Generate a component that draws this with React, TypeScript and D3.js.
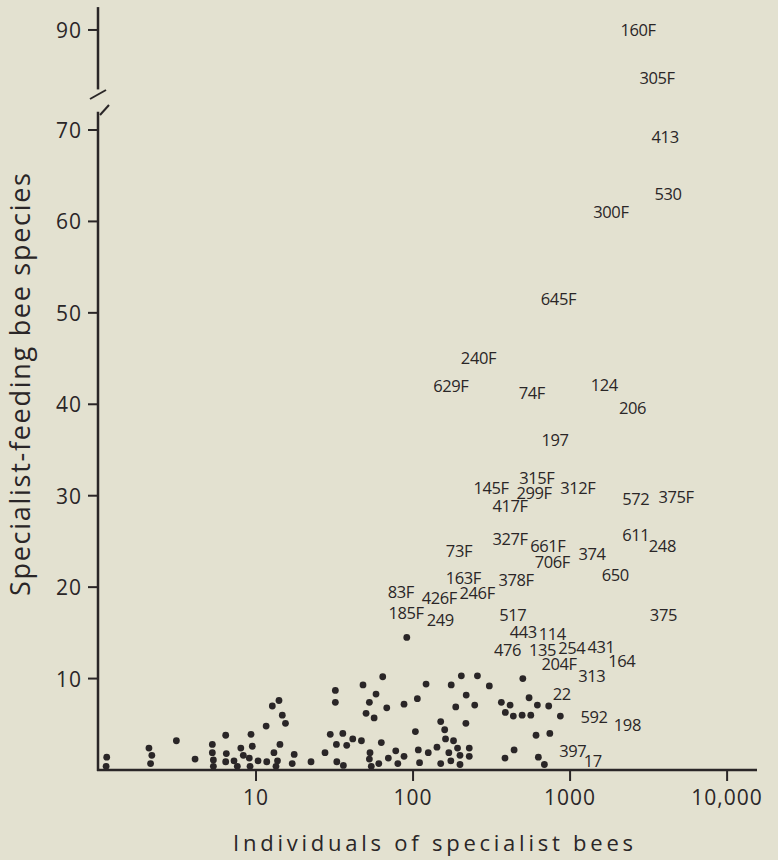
import React, { useEffect, useRef } from "react";
import * as d3 from "d3";

// unlabelled points: individuals of specialist bees vs. specialist-feeding bee species
const dotIndividuals = [
  1.12, 1.11, 2.08, 2.17, 2.13, 3.11, 4.09, 5.27, 5.27, 5.35,
  5.35, 6.41, 6.47, 6.41, 7.24, 7.6, 8.0, 8.3, 9.06, 9.29,
  9.47, 9.16, 10.3, 11.6, 11.7, 12.7, 14.0, 14.7, 15.4, 14.2,
  13.0, 13.7, 13.4, 17.5, 17.0, 22.4, 27.5, 29.7, 32.0, 32.0,
  32.5, 32.7, 36.0, 35.7, 37.8, 41.3, 46.9, 48.0, 58.1, 64.1,
  52.7, 50.2, 56.5, 68.0, 87.6, 91.2, 53.2, 52.7, 54.2, 60.5,
  62.8, 69.6, 77.6, 80.0, 87.6, 103.5, 106.5, 121, 108, 110,
  125, 142, 150, 150, 159, 161, 169, 174, 181, 192,
  199, 199, 228, 228, 175, 203, 257, 218, 187, 247,
  217, 306, 365, 415, 387, 435, 495, 562, 500, 548,
  619, 607, 385, 440, 628, 731, 867, 743, 686,
];
const dotSpecies = [
  1.4, 0.4, 2.4, 1.6, 0.7, 3.2, 1.2, 2.8, 1.9, 1.1,
  0.4, 3.8, 1.8, 0.9, 1.0, 0.4, 2.4, 1.6, 1.3, 3.9,
  2.6, 0.4, 1.0, 4.8, 0.9, 7.0, 7.6, 6.0, 5.1, 2.8,
  1.9, 1.0, 0.4, 1.7, 0.7, 0.9, 1.9, 3.9, 8.7, 7.4,
  2.8, 0.9, 0.5, 4.0, 2.7, 3.4, 3.2, 9.3, 8.3, 10.2,
  7.4, 6.2, 5.7, 6.8, 7.2, 14.5, 1.9, 1.2, 0.4, 0.7,
  3.0, 1.3, 2.1, 0.7, 1.5, 4.2, 7.8, 9.4, 2.2, 0.8,
  1.9, 2.5, 0.7, 5.3, 4.4, 3.4, 1.9, 1.0, 3.2, 2.4,
  1.6, 0.6, 2.4, 1.5, 9.3, 10.3, 10.3, 8.2, 6.9, 7.1,
  5.1, 9.2, 7.4, 7.1, 6.3, 5.9, 6.0, 6.0, 10.0, 7.9,
  7.1, 3.8, 1.3, 2.2, 1.4, 7.0, 5.9, 4.0, 0.6,
];

// labelled points (the label is the mark)
const labelNames = [
  "160F", "305F", "413", "530", "300F", "645F", "240F", "629F", "74F", "124",
  "206", "197", "315F", "145F", "299F", "312F", "417F", "572", "375F", "327F",
  "73F", "661F", "706F", "374", "611", "248", "650", "163F", "378F", "83F",
  "426F", "246F", "185F", "249", "517", "375", "443", "114", "476", "135",
  "254", "431", "164", "204F", "313", "22", "592", "198", "397", "17",
];
const labelIndividuals = [
  2710, 3580, 4030, 4210, 1820, 843, 261, 174, 570, 1650,
  2500, 802, 614, 314, 590, 1120, 415, 2620, 4730, 415,
  196, 721, 771, 1380, 2620, 3870, 1940, 209, 453, 83.5,
  147, 256, 90.2, 149, 432, 3930, 504, 771, 400, 668,
  1025, 1575, 2135, 851, 1374, 885, 1422, 2317, 1040, 1396,
];
const labelSpecies = [
  90, 84.8, 69.3, 63.1, 61.1, 51.6, 45.1, 42.0, 41.3, 42.2,
  39.7, 36.1, 32.0, 30.9, 30.4, 30.9, 28.9, 29.7, 29.9, 25.3,
  24.0, 24.5, 22.8, 23.7, 25.8, 24.5, 21.4, 21.0, 20.8, 19.5,
  18.9, 19.4, 17.2, 16.5, 17.0, 17.0, 15.2, 14.9, 13.2, 13.2,
  13.4, 13.5, 12.0, 11.7, 10.3, 8.4, 5.8, 5.0, 2.1, 1.0,
];

const xTickValues = [10, 100, 1000, 10000];
const xTickLabels = ["10", "100", "1000", "10,000"];
const yTickValues = [10, 20, 30, 40, 50, 60, 70];
const yUpperTicks = [90];

const ink = "#2a2627";
const font = "'Open Sans', 'DejaVu Sans', sans-serif";

export default function App() {
  const ref = useRef<SVGSVGElement>(null);

  useEffect(() => {
    const svg = d3.select(ref.current);
    svg.selectAll("*").remove();

    const x = d3.scaleLog().domain([1, 15500]).range([99, 757]);
    const yLow = d3.scaleLinear().domain([0, 72]).range([770, 111.7]);
    const yHigh = d3.scaleLinear().domain([83, 92.5]).range([94, 7.1]);
    const yOf = (v: number) => (v > 80 ? yHigh(v) : yLow(v));
    const x0 = 98;

    // axes lines
    svg.append("line")
      .attr("x1", x0).attr("x2", x0)
      .attr("y1", yHigh(92.5)).attr("y2", yHigh(83.5))
      .attr("stroke", ink).attr("stroke-width", 2.5);
    svg.append("line")
      .attr("x1", x0).attr("x2", x0)
      .attr("y1", yLow(72)).attr("y2", yLow(0) + 1)
      .attr("stroke", ink).attr("stroke-width", 2.5);
    svg.append("line")
      .attr("x1", x0 - 1).attr("x2", x(15500))
      .attr("y1", yLow(0)).attr("y2", yLow(0))
      .attr("stroke", ink).attr("stroke-width", 2.5);

    // break marks
    const breaks = [
      [x0 - 8, 99, x0 + 8, 90],
      [x0 + 2, 115, x0 + 11, 105],
    ];
    svg.selectAll(".brk").data(breaks).enter().append("line")
      .attr("x1", d => d[0]).attr("y1", d => d[1])
      .attr("x2", d => d[2]).attr("y2", d => d[3])
      .attr("stroke", ink).attr("stroke-width", 2);

    // y ticks
    const yTicks = [
      ...yTickValues.map(v => ({ v, y: yLow(v) })),
      ...yUpperTicks.map(v => ({ v, y: yHigh(v) })),
    ];
    const yt = svg.selectAll(".yt").data(yTicks).enter().append("g");
    yt.append("line")
      .attr("x1", x0 - 10).attr("x2", x0)
      .attr("y1", d => d.y).attr("y2", d => d.y)
      .attr("stroke", ink).attr("stroke-width", 2);
    yt.append("text")
      .attr("x", 82).attr("y", d => d.y)
      .attr("text-anchor", "end").attr("dominant-baseline", "central")
      .attr("font-family", font).attr("font-size", 21)
      .attr("letter-spacing", 1).attr("fill", ink)
      .text(d => String(d.v));

    // x ticks
    const xt = svg.selectAll(".xt").data(xTickValues).enter().append("g");
    xt.append("line")
      .attr("x1", d => x(d)).attr("x2", d => x(d))
      .attr("y1", yLow(0)).attr("y2", yLow(0) + 11)
      .attr("stroke", ink).attr("stroke-width", 2);
    xt.append("text")
      .attr("x", d => x(d)).attr("y", 797)
      .attr("text-anchor", "middle").attr("dominant-baseline", "central")
      .attr("font-family", font).attr("font-size", 21)
      .attr("letter-spacing", 1).attr("fill", ink)
      .text((d, i) => xTickLabels[i]);

    // dots
    svg.selectAll(".dot").data(dotIndividuals).enter().append("circle")
      .attr("cx", d => x(d))
      .attr("cy", (d, i) => yLow(dotSpecies[i]))
      .attr("r", 3.4)
      .attr("fill", ink);

    // labelled points
    svg.selectAll(".lbl").data(labelNames).enter().append("text")
      .attr("x", (d, i) => x(labelIndividuals[i]))
      .attr("y", (d, i) => yOf(labelSpecies[i]))
      .attr("text-anchor", "middle").attr("dominant-baseline", "central")
      .attr("font-family", font).attr("font-size", 16.5)
      .attr("letter-spacing", -0.4)
      .attr("fill", ink)
      .text(d => d);

    // titles
    svg.append("text")
      .attr("x", 233).attr("y", 851)
      .attr("textLength", 400).attr("lengthAdjust", "spacing")
      .attr("font-family", font).attr("font-size", 22)
      .attr("fill", ink)
      .text("Individuals of specialist bees");
    svg.append("text")
      .attr("transform", "translate(30,596) rotate(-90)")
      .attr("textLength", 423).attr("lengthAdjust", "spacing")
      .attr("font-family", font).attr("font-size", 27)
      .attr("fill", ink)
      .text("Specialist-feeding bee species");
  }, []);

  return (
    <svg
      ref={ref}
      width={778}
      height={860}
      style={{ position: "absolute", left: 0, top: 0, background: "#e3e1d0" }}
    />
  );
}
